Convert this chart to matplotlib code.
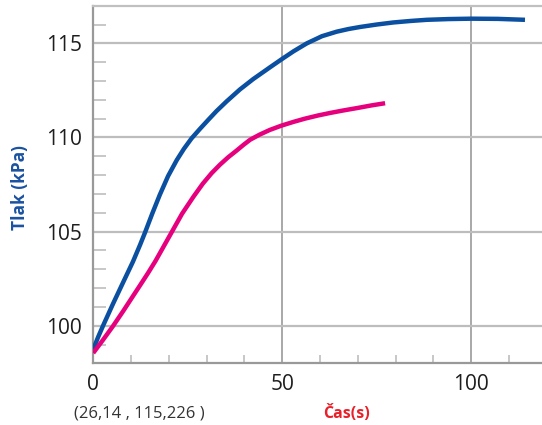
import matplotlib.pyplot as plt
from matplotlib.ticker import MultipleLocator

plt.rcParams['font.family'] = ['Open Sans', 'DejaVu Sans']

# blue curve
blue_t = [0, 1.3, 2.6, 5.2, 7.9, 10.5, 12.4, 13.7, 15.6, 17.6, 19.8, 22.1,
          24, 26, 28.2, 30.4, 32.6, 35.3, 38.8, 42.3, 46.7, 49.8, 53, 56.5,
          60.5, 64.4, 67.5, 70.6, 75, 79.4, 84, 88.2, 94, 100, 107, 114.2]
blue_p = [98.75, 99.4, 100.0, 101.15, 102.3, 103.4, 104.3, 104.95, 105.95,
          106.95, 107.95, 108.8, 109.4, 109.95, 110.45, 110.93, 111.4, 111.92,
          112.55, 113.1, 113.72, 114.15, 114.58, 115.0, 115.38, 115.62,
          115.76, 115.87, 116.0, 116.11, 116.19, 116.25, 116.29, 116.31,
          116.3, 116.25]

# pink curve
pink_t = [0, 2.6, 5.3, 8.0, 10.6, 12.4, 14.5, 16.5, 18.6, 20.7, 23.5, 26.5,
          29, 31.3, 33.5, 35.7, 37.9, 39.7, 41.5, 44, 46.7, 49.8, 53, 56,
          59.5, 62.6, 66, 70, 73.5, 77.2]
pink_p = [98.55, 99.25, 100.0, 100.8, 101.6, 102.15, 102.8, 103.45, 104.2,
          104.95, 105.95, 106.85, 107.55, 108.1, 108.55, 108.95, 109.3, 109.6,
          109.88, 110.15, 110.4, 110.63, 110.83, 111.0, 111.17, 111.3,
          111.43, 111.57, 111.7, 111.82]

fig = plt.figure(figsize=(5.42, 4.25), dpi=100)
ax = fig.add_axes([0.172, 0.145, 0.828, 0.8416])

ax.set_xlim(0, 118.7)
ax.set_ylim(98, 117)

ax.xaxis.set_major_locator(MultipleLocator(50))
ax.xaxis.set_minor_locator(MultipleLocator(10))
ax.yaxis.set_major_locator(MultipleLocator(5))
ax.yaxis.set_minor_locator(MultipleLocator(1))

ax.grid(axis='y', which='major', color='#bdbdbd', lw=1.6)
ax.grid(axis='x', which='major', color='#9a9a9a', lw=1.2)
ax.set_axisbelow(True)

ax.tick_params(which='major', length=0, labelsize=15, labelcolor='#1e1e1e')
ax.tick_params(axis='y', which='major', pad=8)
ax.tick_params(axis='x', which='major', pad=8)
ax.tick_params(axis='y', which='minor', direction='in', length=9,
               width=1.2, color='#bdbdbd')
ax.tick_params(axis='x', which='minor', direction='in', length=6,
               width=1.2, color='#bdbdbd')

for s in ['left', 'bottom']:
    ax.spines[s].set_color('#999999')
    ax.spines[s].set_linewidth(1.6)
ax.spines['top'].set_color('#c0c0c0')
ax.spines['top'].set_linewidth(1.6)
ax.spines['right'].set_visible(False)

ax.plot(blue_t, blue_p, color='#0b4fa0', lw=3.2, solid_capstyle='butt',
        solid_joinstyle='round', zorder=3)
ax.plot(pink_t, pink_p, color='#e6007e', lw=3.2, solid_capstyle='butt',
        solid_joinstyle='round', zorder=3)

fig.text(19.5 / 542, 1 - 187.5 / 425, 'Tlak (kPa)', rotation=90,
         ha='center', va='center', color='#1a52a0', fontsize=12.5,
         fontweight='bold')
fig.text(346 / 542, 1 - 413 / 425, 'Čas(s)', ha='center', va='center',
         color='#e8202a', fontsize=11.5, fontweight='bold')
fig.text(139 / 542, 1 - 413 / 425, '(26,14 , 115,226 )', ha='center',
         va='center', color='#333333', fontsize=12)

fig.savefig('out.png', dpi=100)
